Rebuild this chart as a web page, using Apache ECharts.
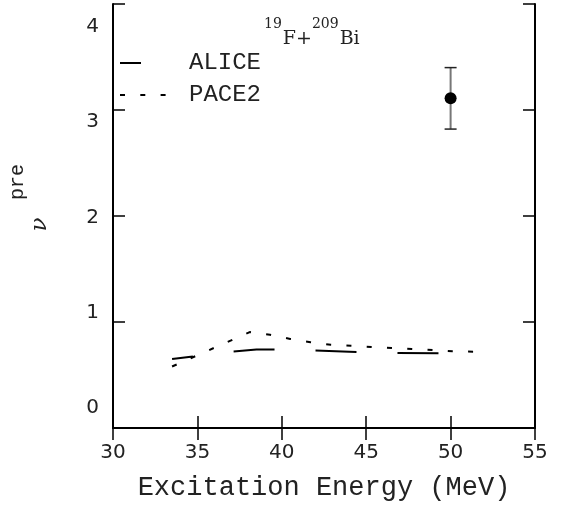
<!DOCTYPE html>
<html>
<head>
<meta charset="utf-8">
<script src="https://cdn.jsdelivr.net/npm/echarts@6/dist/echarts.min.js"></script>
<style>
  html, body { margin: 0; padding: 0; background: #fff; }
  #chart { width: 562px; height: 508px; }
</style>
</head>
<body>
<div id="chart"></div>
<script>
// ALICE calculation (long dashes)
const aliceE = [33.5, 35.0, 37.0, 38.5, 40.0, 42.0, 44.0, 46.0, 49.3];
const aliceNu = [0.65, 0.68, 0.72, 0.74, 0.74, 0.73, 0.72, 0.71, 0.705];

// PACE2 calculation (short dashes)
const paceE = [33.5, 38.1, 39.3, 40.5, 41.7, 42.9, 44.1, 45.3, 46.5, 47.7, 49.0, 50.1, 51.4, 51.8];
const paceNu = [0.58, 0.905, 0.88, 0.84, 0.81, 0.785, 0.775, 0.765, 0.755, 0.745, 0.735, 0.725, 0.72, 0.705];

// measured point with error
const expE = [50.0];
const expNu = [3.11];
const expErr = [0.29];

const chart = echarts.init(document.getElementById('chart'));

const pairs = (xs, ys) => xs.map((x, i) => [x, ys[i]]);

const frameLine = { show: true, lineStyle: { color: '#000', width: 2 } };
const innerTick = { show: true, inside: true, length: 12, lineStyle: { color: '#000', width: 1.5 } };

function renderErrorBar(params, api) {
  const x = api.value(0);
  const lo = api.coord([x, api.value(1)]);
  const hi = api.coord([x, api.value(2)]);
  const half = 6;
  return {
    type: 'group',
    children: [
      { type: 'line', shape: { x1: lo[0], y1: lo[1], x2: hi[0], y2: hi[1] }, style: { stroke: '#777', lineWidth: 2 } },
      { type: 'line', shape: { x1: lo[0] - half, y1: lo[1], x2: lo[0] + half, y2: lo[1] }, style: { stroke: '#222', lineWidth: 1.5 } },
      { type: 'line', shape: { x1: hi[0] - half, y1: hi[1], x2: hi[0] + half, y2: hi[1] }, style: { stroke: '#222', lineWidth: 1.5 } }
    ]
  };
}

chart.setOption({
  animation: false,
  backgroundColor: '#fff',
  title: {
    left: 264,
    top: 15,
    padding: 0,
    text: '{sup|19}{main|F+}{sup|209}{main|Bi}',
    textStyle: {
      fontWeight: 'normal',
      rich: {
        sup: { fontFamily: 'DejaVu Serif', fontWeight: 'normal', fontSize: 14, lineHeight: 14, color: '#222', padding: [0, 1, 0, 0] },
        main: { fontFamily: 'DejaVu Serif', fontWeight: 'normal', fontSize: 19, lineHeight: 19, color: '#222', padding: [29, 0, 0, 0] }
      }
    }
  },
  legend: {
    orient: 'vertical',
    left: 119,
    top: 51,
    padding: 0,
    itemWidth: 48,
    itemHeight: 14,
    itemGap: 8,
    data: ['ALICE', 'PACE2'],
    itemStyle: { opacity: 0 },
    textStyle: { fontFamily: 'Liberation Mono', fontSize: 24, color: '#222', padding: [0, 0, 0, 16] }
  },
  grid: [
    { left: 113, right: 27, top: 4, bottom: 80 },
    { left: 113, right: 27, top: 27, bottom: 100 }
  ],
  xAxis: [
    {
      gridIndex: 0, type: 'value', position: 'bottom', min: 30, max: 55, interval: 5,
      axisLine: frameLine, axisTick: innerTick, splitLine: { show: false },
      axisLabel: { margin: 15, fontFamily: 'DejaVu Sans', fontSize: 20, color: '#222' },
      name: 'Excitation Energy (MeV)', nameLocation: 'middle', nameGap: 46,
      nameTextStyle: { fontFamily: 'Liberation Mono', fontSize: 27, color: '#222' }
    },
    {
      gridIndex: 0, type: 'value', position: 'top', min: 30, max: 55, interval: 5,
      axisLine: frameLine, axisTick: innerTick, splitLine: { show: false }, axisLabel: { show: false }
    },
    { gridIndex: 1, type: 'value', min: 30, max: 55, show: false }
  ],
  yAxis: [
    {
      gridIndex: 0, type: 'value', position: 'left', min: 0, max: 4, interval: 1,
      axisLine: frameLine, axisTick: innerTick, splitLine: { show: false }, axisLabel: { show: false },
      name: 'pre', nameLocation: 'middle', nameRotate: 90, nameGap: 85,
      nameTextStyle: { fontFamily: 'Liberation Mono', fontSize: 20, color: '#222', padding: [0, 0, 0, 68] }
    },
    {
      gridIndex: 0, type: 'value', position: 'right', min: 0, max: 4, interval: 1,
      axisLine: frameLine, axisTick: innerTick, splitLine: { show: false }, axisLabel: { show: false }
    },
    {
      gridIndex: 1, type: 'value', position: 'left', min: 0, max: 4, interval: 1,
      axisLine: { show: false }, axisTick: { show: false }, splitLine: { show: false },
      axisLabel: { margin: 14, fontFamily: 'DejaVu Sans', fontSize: 20, color: '#222' },
      name: 'ν', nameLocation: 'middle', nameRotate: 90, nameGap: 61,
      nameTextStyle: { fontFamily: 'DejaVu Serif', fontStyle: 'italic', fontSize: 23, color: '#222', padding: [0, 14, 0, 0] }
    }
  ],
  series: [
    {
      name: 'ALICE', type: 'line', xAxisIndex: 0, yAxisIndex: 0,
      data: pairs(aliceE, aliceNu), symbol: 'none',
      lineStyle: { color: '#000', width: 2, type: [41, 41], dashOffset: 20 },
      itemStyle: { color: '#000' }
    },
    {
      name: 'PACE2', type: 'line', xAxisIndex: 0, yAxisIndex: 0,
      data: pairs(paceE, paceNu), symbol: 'none',
      lineStyle: { color: '#000', width: 2, type: [5, 15.3], dashOffset: 0 },
      itemStyle: { color: '#000' }
    },
    {
      name: 'error', type: 'custom', xAxisIndex: 0, yAxisIndex: 0,
      data: expE.map((e, i) => [e, expNu[i] - expErr[i], expNu[i] + expErr[i]]),
      renderItem: renderErrorBar, z: 3
    },
    {
      name: 'data', type: 'scatter', xAxisIndex: 0, yAxisIndex: 0,
      data: pairs(expE, expNu), symbol: 'circle', symbolSize: 12,
      itemStyle: { color: '#000', opacity: 1 }, z: 4
    }
  ]
});

window.addEventListener('resize', () => {
  chart.resize();
});
</script>
</body>
</html>
